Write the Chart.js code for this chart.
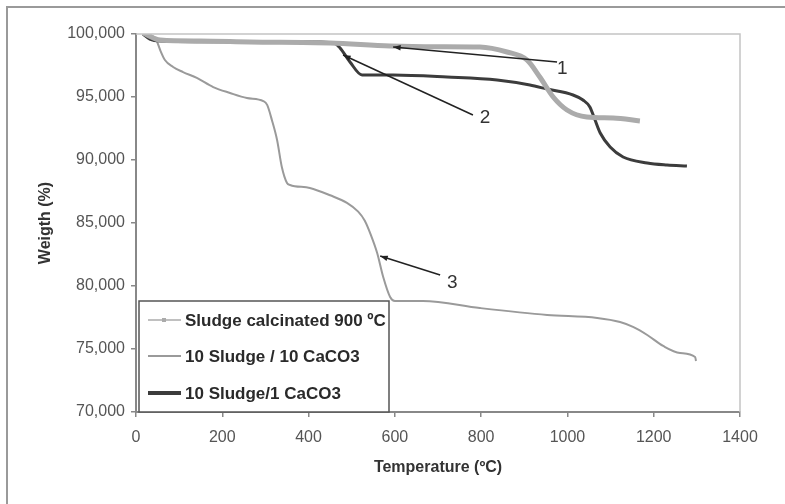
<!DOCTYPE html>
<html>
<head>
<meta charset="utf-8">
<script src="https://cdn.jsdelivr.net/npm/chart.js@4.4.1/dist/chart.umd.min.js"></script>
<style>
  html, body { margin: 0; padding: 0; background: #fff; }
  #wrap { width: 785px; height: 504px; }
</style>
</head>
<body>
<div id="wrap"><canvas id="grafico"></canvas></div>
<script>
// Sludge calcinated 900 ºC
const tempCalc = [16, 56, 148, 264, 450, 589, 700, 797, 860, 906, 936, 967, 999, 1045, 1106, 1168];
const weightCalc = [100.08, 99.52, 99.44, 99.37, 99.29, 99.05, 98.99, 98.97, 98.57, 97.94, 96.59, 95.0, 93.97, 93.41, 93.33, 93.10];

// 10 Sludge / 10 CaCO3
const temp10 = [16, 44, 49, 56, 67, 86, 109, 141, 179, 218, 257, 295, 304, 315, 327, 338, 350, 357, 403, 450, 489, 515, 530, 545, 559, 573, 589, 600, 665, 797, 953, 1069, 1122, 1152, 1185, 1222, 1261, 1296, 1298];
const weight10 = [100.1, 99.68, 99.37, 98.73, 97.94, 97.38, 96.98, 96.51, 95.79, 95.32, 94.92, 94.68, 94.37, 93.17, 91.59, 89.44, 88.17, 88.02, 87.78, 87.2, 86.6, 85.9, 85.2, 84.0, 82.62, 80.71, 79.13, 78.81, 78.81, 78.25, 77.70, 77.46, 77.14, 76.75, 76.11, 75.24, 74.68, 74.37, 74.05];

// 10 Sludge/1 CaCO3
const temp1 = [16, 32, 56, 264, 427, 461, 473, 496, 524, 596, 721, 837, 913, 953, 1013, 1036, 1052, 1064, 1076, 1099, 1129, 1185, 1231, 1277];
const weight1 = [100, 99.6, 99.45, 99.38, 99.36, 99.25, 98.89, 97.78, 96.75, 96.75, 96.59, 96.35, 95.95, 95.63, 95.16, 94.76, 94.21, 93.17, 92.14, 91.03, 90.24, 89.76, 89.60, 89.52];

const seriesNames = ['Sludge calcinated 900 ºC', '10 Sludge / 10 CaCO3', '10 Sludge/1 CaCO3'];

// flechas: punta (x, y), cola (x, y), etiqueta (x, y) en unidades de datos
const arrowLabels = ['1', '2', '3'];
const arrowTip = [[596, 98.97], [480, 98.33], [566, 82.38]];
const arrowTail = [[976, 97.78], [781, 93.57], [705, 80.87]];
const arrowText = [[988, 97.22], [809, 93.33], [733, 80.24]];

function puntos(xs, ys) {
    return xs.map((x, i) => ({ x: x, y: ys[i] }));
}

const colores = ['#ababab', '#9a9a9a', '#3c3c3c'];
const fuente = '"Liberation Sans", Arial, sans-serif';

const extras = {
    id: 'extras',
    afterDatasetsDraw(chart) {
        const ctx = chart.ctx;
        const a = chart.chartArea;
        const sx = chart.scales.x, sy = chart.scales.y;
        ctx.save();

        // borde del area de trazado (arriba y derecha)
        ctx.strokeStyle = '#c4c4c4';
        ctx.lineWidth = 1.5;
        ctx.beginPath();
        ctx.moveTo(a.left, a.top);
        ctx.lineTo(a.right, a.top);
        ctx.lineTo(a.right, a.bottom);
        ctx.stroke();

        // flechas
        ctx.lineWidth = 1.5;
        for (let i = 0; i < arrowLabels.length; i++) {
            const x1 = sx.getPixelForValue(arrowTail[i][0]), y1 = sy.getPixelForValue(arrowTail[i][1]);
            const x2 = sx.getPixelForValue(arrowTip[i][0]), y2 = sy.getPixelForValue(arrowTip[i][1]);
            const ang = Math.atan2(y2 - y1, x2 - x1);
            ctx.strokeStyle = '#222';
            ctx.fillStyle = '#222';
            ctx.beginPath();
            ctx.moveTo(x1, y1);
            ctx.lineTo(x2, y2);
            ctx.stroke();
            ctx.beginPath();
            ctx.moveTo(x2, y2);
            ctx.lineTo(x2 - 8 * Math.cos(ang - 0.35), y2 - 8 * Math.sin(ang - 0.35));
            ctx.lineTo(x2 - 8 * Math.cos(ang + 0.35), y2 - 8 * Math.sin(ang + 0.35));
            ctx.closePath();
            ctx.fill();
            ctx.font = '19px ' + fuente;
            ctx.fillStyle = '#333';
            ctx.textAlign = 'center';
            ctx.textBaseline = 'middle';
            ctx.fillText(arrowLabels[i], sx.getPixelForValue(arrowText[i][0]), sy.getPixelForValue(arrowText[i][1]));
        }

        // leyenda
        const lx = a.left + 3, ly = 301, lw = 250, lh = a.bottom - ly;
        ctx.fillStyle = '#fff';
        ctx.fillRect(lx, ly, lw, lh);
        ctx.strokeStyle = '#555';
        ctx.lineWidth = 1.5;
        ctx.strokeRect(lx, ly, lw, lh);
        const filas = [320, 356, 393];
        const grosor = [1.5, 2, 4];
        ctx.font = 'bold 17px ' + fuente;
        ctx.textAlign = 'left';
        ctx.textBaseline = 'middle';
        for (let i = 0; i < seriesNames.length; i++) {
            ctx.strokeStyle = colores[i];
            ctx.lineWidth = grosor[i];
            ctx.beginPath();
            ctx.moveTo(lx + 9, filas[i]);
            ctx.lineTo(lx + 42, filas[i]);
            ctx.stroke();
            if (i === 0) {
                ctx.fillStyle = colores[i];
                ctx.fillRect(lx + 23, filas[i] - 2, 4, 4);
            }
            ctx.fillStyle = '#2a2a2a';
            ctx.fillText(seriesNames[i], lx + 46, filas[i] + 1);
        }

        // marco exterior
        ctx.strokeStyle = '#9a9a9a';
        ctx.lineWidth = 2;
        ctx.strokeRect(7, 7, 900, 600);
        ctx.restore();
    }
};

window.onload = function () {
    const ctx = document.getElementById('grafico');
    new Chart(ctx.getContext('2d'), {
        type: 'line',
        data: {
            datasets: [{
                label: seriesNames[0],
                data: puntos(tempCalc, weightCalc),
                borderColor: colores[0],
                borderWidth: 5,
                pointRadius: 0,
                cubicInterpolationMode: 'monotone',
                order: 0
            }, {
                label: seriesNames[1],
                data: puntos(temp10, weight10),
                borderColor: colores[1],
                borderWidth: 2,
                pointRadius: 0,
                cubicInterpolationMode: 'monotone',
                order: 2
            }, {
                label: seriesNames[2],
                data: puntos(temp1, weight1),
                borderColor: colores[2],
                borderWidth: 3,
                pointRadius: 0,
                cubicInterpolationMode: 'monotone',
                order: 1
            }]
        },
        options: {
            responsive: true,
            maintainAspectRatio: false,
            animation: false,
            layout: {
                padding: { left: 0, right: 45, top: 34, bottom: 0 }
            },
            scales: {
                x: {
                    type: 'linear',
                    min: 0,
                    max: 1400,
                    afterFit: function (s) { s.height = 92; },
                    ticks: {
                        stepSize: 200,
                        color: '#555',
                        padding: 11,
                        font: { size: 16, family: fuente },
                        callback: function (v) { return String(v); }
                    },
                    grid: { drawOnChartArea: false, color: '#888', tickLength: 5, lineWidth: 1.5 },
                    border: { color: '#888', width: 2 },
                    title: {
                        display: true,
                        text: 'Temperature (ºC)',
                        color: '#333',
                        padding: { top: 0, bottom: 27 },
                        font: { size: 16, weight: 'bold', family: fuente }
                    }
                },
                y: {
                    min: 70,
                    max: 100,
                    afterFit: function (s) { s.width = 136; },
                    ticks: {
                        stepSize: 5,
                        color: '#555',
                        padding: 6,
                        font: { size: 16, family: fuente },
                        callback: function (v) { return v.toFixed(3).replace('.', ','); }
                    },
                    grid: { drawOnChartArea: false, color: '#888', tickLength: 5, lineWidth: 1.5 },
                    border: { color: '#888', width: 2 },
                    title: {
                        display: true,
                        text: 'Weigth (%)',
                        color: '#333',
                        padding: { top: 36, bottom: 0 },
                        font: { size: 16, weight: 'bold', family: fuente }
                    }
                }
            },
            plugins: {
                legend: { display: false },
                tooltip: { enabled: false },
                title: { display: false }
            }
        },
        plugins: [extras]
    });
};
</script>
</body>
</html>
